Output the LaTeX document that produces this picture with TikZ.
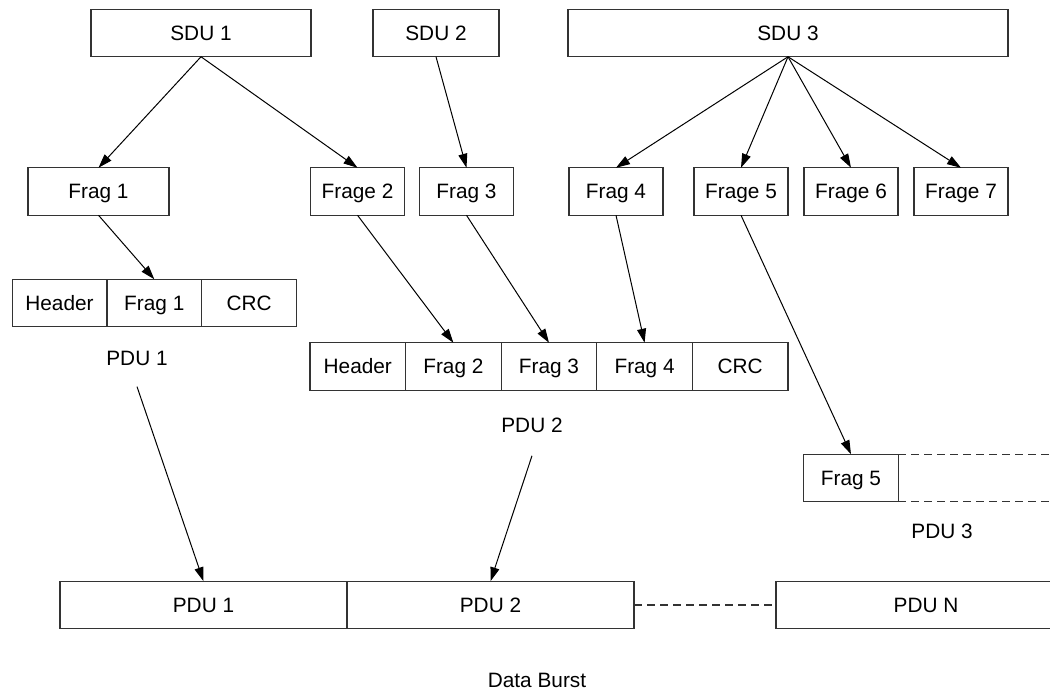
\documentclass[tikz,border=0pt]{standalone}
\usepackage{fontspec}
\setmainfont{Liberation Sans}
\usetikzlibrary{positioning,arrows.meta}

\begin{document}
\begin{tikzpicture}[
        x=0.5pt, y=-0.5pt,
        font=\fontsize{10.4}{12}\selectfont,
        box/.style={draw=black!80, line width=0.6pt, minimum height=23.75pt, inner sep=0pt, outer sep=0pt, text height=7.6pt, text depth=0.2pt},
        sdu/.style={box},
        frag/.style={box, minimum width=47pt},
        cell/.style={box, minimum width=47.4pt},
        cellw/.style={box, minimum width=47.8pt},
        burst/.style={box, minimum width=143.5pt},
        lbl/.style={inner sep=0pt},
        arr/.style={-{Triangle[length=7pt, width=4.5pt]}, line width=0.5pt, black},
        gap/.style={dashed, dash pattern=on 4pt off 2.5pt, line width=0.6pt, black!80}
    ]
        \clip (0,0) rectangle (1050,690);

        % SDUs
        \node[sdu, minimum width=110pt] (sdu1) at (201,33) {SDU 1};
        \node[sdu, minimum width=63pt] (sdu2) at (436,33) {SDU 2};
        \node[sdu, minimum width=220pt] (sdu3) at (788,33) {SDU 3};

        % Fragments
        \node[frag, minimum width=70.5pt] (fr1) at (98.5,191.5) {Frag 1};
        \node[frag] (fr2) at (357.5,191.5) {Frage 2};
        \node[frag] (fr3) at (466.5,191.5) {Frag 3};
        \node[frag] (fr4) at (616,191.5) {Frag 4};
        \node[frag] (fr5) at (741,191.5) {Frage 5};
        \node[frag] (fr6) at (851,191.5) {Frage 6};
        \node[frag] (fr7) at (961,191.5) {Frage 7};

        \draw[arr] (sdu1.south) -- (fr1.north);
        \draw[arr] (sdu1.south) -- (fr2.north);
        \draw[arr] (sdu2.south) -- (fr3.north);
        \foreach \i in {4,...,7}
            \draw[arr] (sdu3.south) -- (fr\i.north);

        % PDU 1
        \node[cell] (p1h) at (59.5,303) {Header};
        \node[cell, right=0pt of p1h] (p1f) {Frag 1};
        \node[cell, right=0pt of p1f] (p1c) {CRC};
        \node[lbl] (l1) at (137,358) {PDU 1};
        \draw[arr] (fr1.south) -- (p1f.north);

        % PDU 2
        \node[cellw] (p2h) at (357.8,366.5) {Header};
        \node[cellw, right=0pt of p2h] (p2f2) {Frag 2};
        \node[cellw, right=0pt of p2f2] (p2f3) {Frag 3};
        \node[cellw, right=0pt of p2f3] (p2f4) {Frag 4};
        \node[cellw, right=0pt of p2f4] (p2c) {CRC};
        \node[lbl] (l2) at (532,425) {PDU 2};
        \draw[arr] (fr2.south) -- (p2f2.north);
        \draw[arr] (fr3.south) -- (p2f3.north);
        \draw[arr] (fr4.south) -- (p2f4.north);

        % PDU 3 (open to the right)
        \node[cell] (p3f) at (851,478) {Frag 5};
        \coordinate (edge) at (1060,0);
        \draw[gap] (p3f.north east) -- (p3f.north east -| edge);
        \draw[gap] (p3f.south east) -- (p3f.south east -| edge);
        \node[lbl] (l3) at (942,531) {PDU 3};
        \draw[arr] (fr5.south) -- (p3f.north);

        % Data burst
        \node[burst] (b1) at (203.5,605) {PDU 1};
        \node[burst, right=0pt of b1] (b2) {PDU 2};
        \node[box, minimum width=150pt] (bn) at (926,605) {PDU N};
        \draw[gap] (b2.east) -- (bn.west);
        \node[lbl] (lb) at (537,680) {Data Burst};
        \draw[arr] ([yshift=-10.5pt]l1.south) -- (b1.north);
        \draw[arr] ([yshift=-11.5pt]l2.south) -- (b2.north);
    \end{tikzpicture}
\end{document}
